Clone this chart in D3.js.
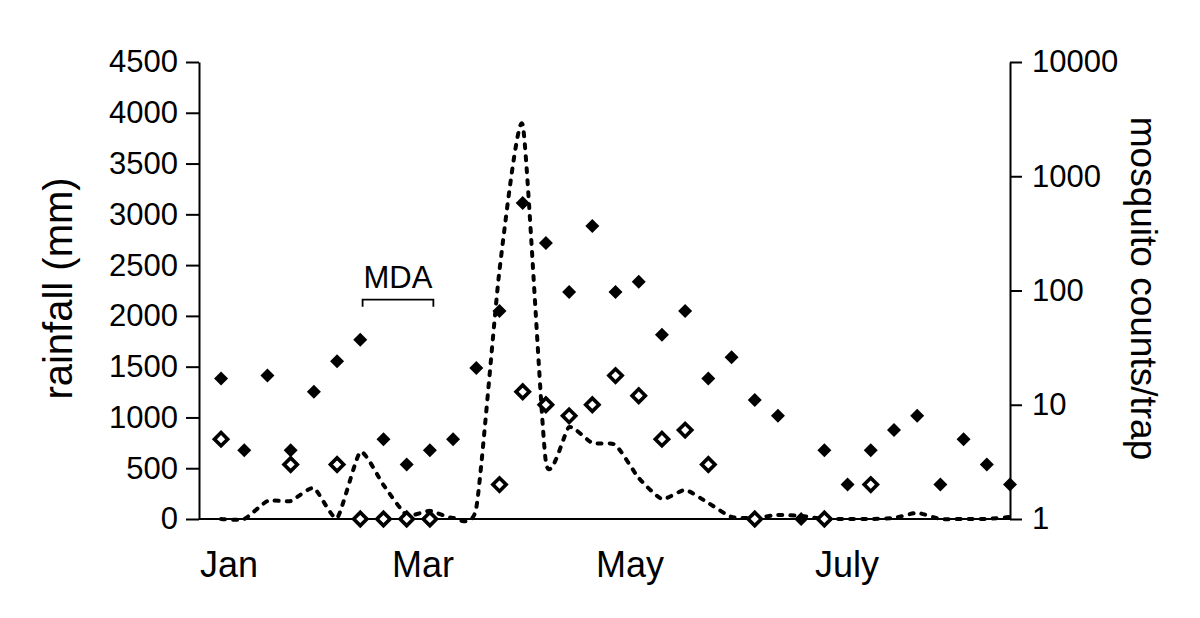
<!DOCTYPE html>
<html>
<head>
<meta charset="utf-8">
<script src="https://cdn.jsdelivr.net/npm/d3@7"></script>
<style>
  body { margin: 0; background: #fff; }
  svg text { font-family: "Liberation Sans", Arial, sans-serif; fill: #000; }
</style>
</head>
<body>
<div id="chart"></div>
<script>
// weekly rainfall (mm), dashed line on the left axis
const rainfall = [0, 0, 177, 177, 305, 10, 660, 335, 40, 80, 10, 110, 2450, 3880, 560,
  905, 748, 729, 404, 197, 286, 157, 20, 10, 40, 30, 0, 0, 0, 10, 60, 0, 0, 0, 20];
// mosquito counts/trap, filled diamonds (log axis)
const countsFilled = [17, 4, 18, 4, 13, 24, 37, 5, 3, 4, 5, 21, 66, 583, 260,
  97, 367, 97, 119, 41, 66, 17, 26, 11, 8, 1, 4, 2, 4, 6, 8, 2, 5, 3, 2];
// mosquito counts/trap, open diamonds (log axis), null = no sample
const countsOpen = [5, null, null, 3, null, 3, 1, 1, 1, 1, null, null, 2, 13, 10,
  8, 10, 18, 12, 5, 6, 3, null, 1, null, null, 1, null, 2, null, null, null, null, null, null];

const leftTicks = [0, 500, 1000, 1500, 2000, 2500, 3000, 3500, 4000, 4500];
const rightTicks = [1, 10, 100, 1000, 10000];
const monthLabels = ["Jan", "Mar", "May", "July"];
const monthWeeks = [0.34, 8.7, 17.62, 26.98];
const mdaWeeks = [6.1, 9.15];
const mdaLevel = 2160; // rainfall units, where the bracket sits

const width = 1200, height = 618;
const margin = { top: 62, right: 190, bottom: 99, left: 199 };
const plotBottom = height - margin.bottom;

const svg = d3.select("#chart").append("svg")
    .attr("width", width)
    .attr("height", height);

const weekIdx = rainfall.map((d, i) => i);

const x = d3.scaleLinear()
    .domain([-0.95, weekIdx.length - 1])
    .range([margin.left, width - margin.right]);

const yLeft = d3.scaleLinear()
    .domain([0, 4500])
    .range([plotBottom, margin.top]);

const yRight = d3.scaleLog()
    .domain([1, 10000])
    .range([plotBottom, margin.top]);

// Axes
const leftAxis = svg.append("g")
    .attr("transform", `translate(${margin.left},0)`)
    .call(d3.axisLeft(yLeft).tickValues(leftTicks).tickSize(13).tickSizeOuter(0)
        .tickPadding(8).tickFormat(d3.format("d")));

const rightAxis = svg.append("g")
    .attr("transform", `translate(${width - margin.right},0)`)
    .call(d3.axisRight(yRight).tickValues(rightTicks).tickSize(12).tickSizeOuter(0)
        .tickPadding(10).tickFormat(d3.format("d")));

[leftAxis, rightAxis].forEach(g => {
    g.attr("font-size", 31).attr("font-family", null);
    g.select(".domain").attr("stroke", "#000").attr("stroke-width", 2);
    g.selectAll(".tick line").attr("stroke", "#000").attr("stroke-width", 2);
    g.selectAll(".tick text").attr("fill", "#000");
});

// bottom axis line
svg.append("line")
    .attr("x1", x.range()[0]).attr("x2", x.range()[1])
    .attr("y1", plotBottom).attr("y2", plotBottom)
    .attr("stroke", "#000")
    .attr("stroke-width", 2);

// month labels
svg.append("g").selectAll("text")
    .data(monthLabels)
    .join("text")
    .attr("x", (d, i) => x(monthWeeks[i]))
    .attr("y", 577)
    .attr("text-anchor", "middle")
    .attr("font-size", 36)
    .text(d => d);

// axis titles
svg.append("text")
    .attr("transform", `translate(72,${(margin.top + plotBottom) / 2 - 2}) rotate(-90)`)
    .attr("text-anchor", "middle")
    .attr("font-size", 40)
    .text("rainfall (mm)");

svg.append("text")
    .attr("transform", `translate(1131,${(margin.top + plotBottom) / 2 - 2}) rotate(90)`)
    .attr("text-anchor", "middle")
    .attr("font-size", 37)
    .text("mosquito counts/trap");

// rainfall dashed line
const line = d3.line()
    .x((d, i) => x(i))
    .y(d => yLeft(d))
    .curve(d3.curveCardinal.tension(0.45));

svg.append("path")
    .datum(rainfall)
    .attr("d", line)
    .attr("fill", "none")
    .attr("stroke", "#000")
    .attr("stroke-width", 4)
    .attr("stroke-linecap", "round")
    .attr("stroke-dasharray", "4,8");

// diamonds
const filledSym = d3.symbol(d3.symbolSquare, 98);
const openSym = d3.symbol(d3.symbolSquare, 88);

svg.append("g").selectAll("path")
    .data(countsFilled.map((v, i) => ({ i, v })))
    .join("path")
    .attr("d", filledSym)
    .attr("transform", d => `translate(${x(d.i)},${yRight(d.v)}) rotate(45)`)
    .attr("fill", "#000");

svg.append("g").selectAll("path")
    .data(countsOpen.map((v, i) => ({ i, v })).filter(d => d.v !== null))
    .join("path")
    .attr("d", openSym)
    .attr("transform", d => `translate(${x(d.i)},${yRight(d.v)}) rotate(45)`)
    .attr("fill", "#fff")
    .attr("stroke", "#000")
    .attr("stroke-width", 3.6);

// MDA annotation
const mdaY = yLeft(mdaLevel);
svg.append("path")
    .attr("d", `M${x(mdaWeeks[0])},${mdaY + 7}V${mdaY}H${x(mdaWeeks[1])}V${mdaY + 7}`)
    .attr("fill", "none")
    .attr("stroke", "#000")
    .attr("stroke-width", 1.8);

svg.append("text")
    .attr("x", x((mdaWeeks[0] + mdaWeeks[1]) / 2))
    .attr("y", mdaY - 12)
    .attr("text-anchor", "middle")
    .attr("font-size", 31)
    .text("MDA");
</script>
</body>
</html>
